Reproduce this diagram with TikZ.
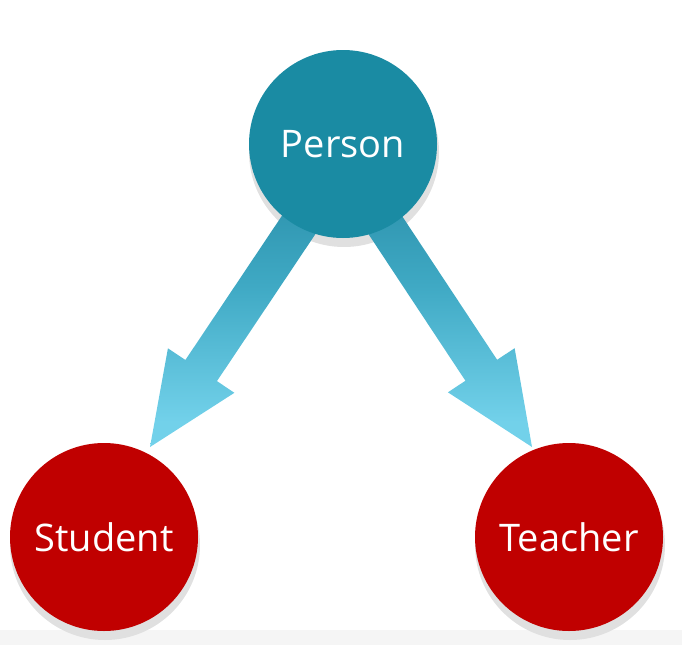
\documentclass[tikz,border=0pt]{standalone}
\usepackage{fontspec}
\setmainfont{Open Sans}
\usetikzlibrary{calc}
\definecolor{teal1}{HTML}{1A8BA3}
\definecolor{red1}{HTML}{C00000}
\definecolor{shad}{HTML}{E0E0E0}
\definecolor{band}{HTML}{F5F5F5}
\definecolor{arrtop}{HTML}{2386A0}
\definecolor{arrmid}{HTML}{3FA9C4}
\definecolor{arrbot}{HTML}{72D1EA}
\pgfdeclareverticalshading{arrshade}{100bp}{color(0bp)=(arrbot); color(30bp)=(arrbot); color(57bp)=(arrmid); color(86bp)=(arrtop); color(100bp)=(arrtop)}
\tikzset{
  ball/.style={circle, minimum size=188pt, inner sep=0pt, text=white, font=\fontsize{38}{42}\selectfont},
  shadowball/.style={circle, minimum size=190pt, inner sep=0pt, fill=shad},
  blockarrow/.style={shading=arrshade}
}
\begin{document}
\begin{tikzpicture}[x=1pt,y=-1pt]
\useasboundingbox (0,0) rectangle (682,645);
\fill[band] (0,630) rectangle (682,645);
% shadows
\node[shadowball] (ps) at (344,152) {};
\node[shadowball] (ss) at (105,545) {};
\node[shadowball] (ts) at (570,545) {};
% arrows
\coordinate (lt) at (312,205);
\coordinate (lp) at (150,447);
\coordinate (lb) at ($(lp)!92pt!(lt)$);
\shade[blockarrow]
  ($(lt)!19pt!90:(lp)$) -- ($(lb)!19pt!-90:(lt)$) -- ($(lb)!40pt!-90:(lt)$) -- (lp)
  -- ($(lb)!40pt!90:(lt)$) -- ($(lb)!19pt!90:(lt)$) -- ($(lt)!19pt!-90:(lp)$) -- cycle;
\coordinate (rt) at (372,205);
\coordinate (rp) at (532,447);
\coordinate (rb) at ($(rp)!92pt!(rt)$);
\shade[blockarrow]
  ($(rt)!19pt!90:(rp)$) -- ($(rb)!19pt!-90:(rt)$) -- ($(rb)!40pt!-90:(rt)$) -- (rp)
  -- ($(rb)!40pt!90:(rt)$) -- ($(rb)!19pt!90:(rt)$) -- ($(rt)!19pt!-90:(rp)$) -- cycle;
% circles
\node[ball, fill=teal1] (person) at (343,144) {Person};
\node[ball, fill=red1] (student) at (104,537) {Student};
\node[ball, fill=red1] (teacher) at (569,537) {Teacher};
\end{tikzpicture}
\end{document}
